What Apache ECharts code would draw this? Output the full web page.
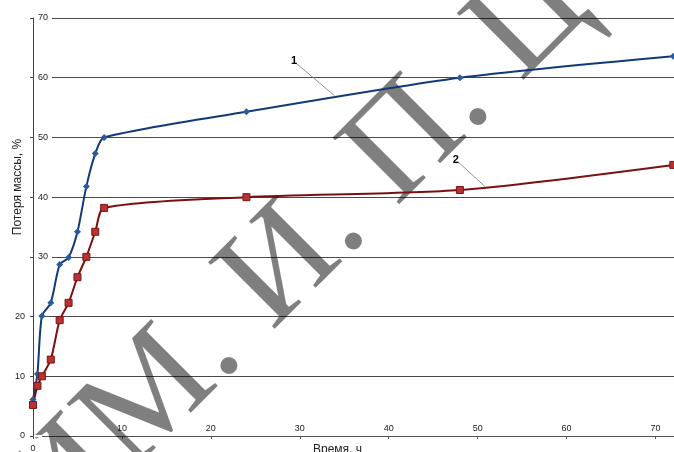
<!DOCTYPE html>
<html>
<head>
<meta charset="utf-8">
<script src="https://cdn.jsdelivr.net/npm/echarts@6/dist/echarts.min.js"></script>
<style>
  html, body { margin: 0; padding: 0; background: #fff; }
  #chart { width: 674px; height: 452px; }
</style>
</head>
<body>
<div id="chart"></div>
<script>
//Données
const hours = [0, 0.5, 1, 2, 3, 4, 5, 6, 7, 8, 24, 48, 72];
const loss1 = [6.1, 10.4, 20.1, 22.3, 28.7, 29.9, 34.2, 41.8, 47.3, 50.0, 54.3, 60.0, 63.6];
const loss2 = [5.2, 8.4, 10.0, 12.8, 19.4, 22.3, 26.6, 30.0, 34.2, 38.2, 40.0, 41.2, 45.4];
const seriesNames = ['1', '2'];

//Repères (numéro de courbe + trait de rappel)
const callout1 = [[29.6, 62.4], [33.9, 57.0]];
const callout2 = [[47.8, 45.9], [50.8, 41.8]];

const watermark = 'ИМ. И. П. Ц';

const chart = echarts.init(document.getElementById('chart'));

const tickFont = { color: '#222', fontSize: 9, fontFamily: 'Liberation Sans' };

function callout(points, text) {
  return {
    silent: true,
    symbol: ['none', 'none'],
    lineStyle: { color: '#777', width: 0.8, type: 'solid' },
    label: {
      show: true, position: 'start', distance: 3, formatter: text,
      color: '#000', fontSize: 11, fontWeight: 'bold', fontFamily: 'Liberation Sans'
    },
    data: [[{ coord: points[0] }, { coord: points[1] }]]
  };
}

chart.setOption({
  backgroundColor: '#fff',
  animation: false,
  grid: { left: 33, top: 18, bottom: 16, right: -26, containLabel: false, outerBoundsMode: 'none' },
  graphic: [{
    type: 'text',
    x: 30, y: 520,
    rotation: Math.PI / 4,
    z: 1,
    silent: true,
    style: {
      text: watermark,
      font: '144px "Liberation Serif"',
      fill: 'rgba(0,0,0,0.5)',
      textAlign: 'left',
      textVerticalAlign: 'middle'
    }
  }],
  xAxis: [{
    type: 'value', min: 0, max: 75, interval: 10, position: 'bottom',
    axisLine: { lineStyle: { color: '#555' } },
    axisTick: { show: true, length: 3, lineStyle: { color: '#555' } },
    axisLabel: { ...tickFont, margin: 8, formatter: v => (v === 0 ? '0' : '') },
    splitLine: { show: false },
    name: 'Время, ч', nameLocation: 'middle', nameGap: 8, nameMoveOverlap: false,
    nameTextStyle: { color: '#222', fontSize: 12, fontFamily: 'Liberation Sans', padding: [0, 58, 0, 0] }
  }, {
    type: 'value', min: 0, max: 75, interval: 10, position: 'bottom',
    axisLine: { show: false }, axisTick: { show: false }, splitLine: { show: false },
    axisLabel: { ...tickFont, inside: true, margin: 3, formatter: v => (v > 0 && v <= 70 ? String(v) : '') }
  }],
  yAxis: [{
    type: 'value', min: 0, max: 70, interval: 10, position: 'left',
    axisLine: { show: true, lineStyle: { color: '#444' } },
    axisTick: { show: true, length: 3, lineStyle: { color: '#444' } },
    axisLabel: { ...tickFont, margin: 8, formatter: v => (v <= 20 ? String(v) : '') },
    splitLine: { show: true, lineStyle: { color: '#4a4a4a', width: 1 } },
    name: 'Потеря массы, %', nameLocation: 'middle', nameGap: 9, nameMoveOverlap: false,
    nameTextStyle: { color: '#222', fontSize: 12, fontFamily: 'Liberation Sans', padding: [0, 0, 0, 80] }
  }, {
    type: 'value', min: 0, max: 70, interval: 10, position: 'left', z: 3,
    axisLine: { show: false }, axisTick: { show: false }, splitLine: { show: false },
    axisLabel: {
      ...tickFont, inside: true, margin: 1,
      backgroundColor: '#fff', padding: [1, 4, 1, 4],
      formatter: v => (v >= 30 ? String(v) : '')
    }
  }],
  series: [{
    name: seriesNames[0],
    type: 'line', smooth: 0.25,
    xAxisIndex: 0, yAxisIndex: 0, z: 4,
    symbol: 'diamond', symbolSize: 7,
    lineStyle: { color: '#133a78', width: 2 },
    itemStyle: { color: '#2a5a9a' },
    data: hours.map((h, i) => [h, loss1[i]]),
    markLine: callout(callout1, seriesNames[0])
  }, {
    name: seriesNames[1],
    type: 'line', smooth: 0.25,
    xAxisIndex: 0, yAxisIndex: 0, z: 4,
    symbol: 'rect', symbolSize: 7,
    lineStyle: { color: '#7a1010', width: 2 },
    itemStyle: { color: '#b83232', borderColor: '#7a1515', borderWidth: 1 },
    data: hours.map((h, i) => [h, loss2[i]]),
    markLine: callout(callout2, seriesNames[1])
  }]
});
</script>
</body>
</html>
